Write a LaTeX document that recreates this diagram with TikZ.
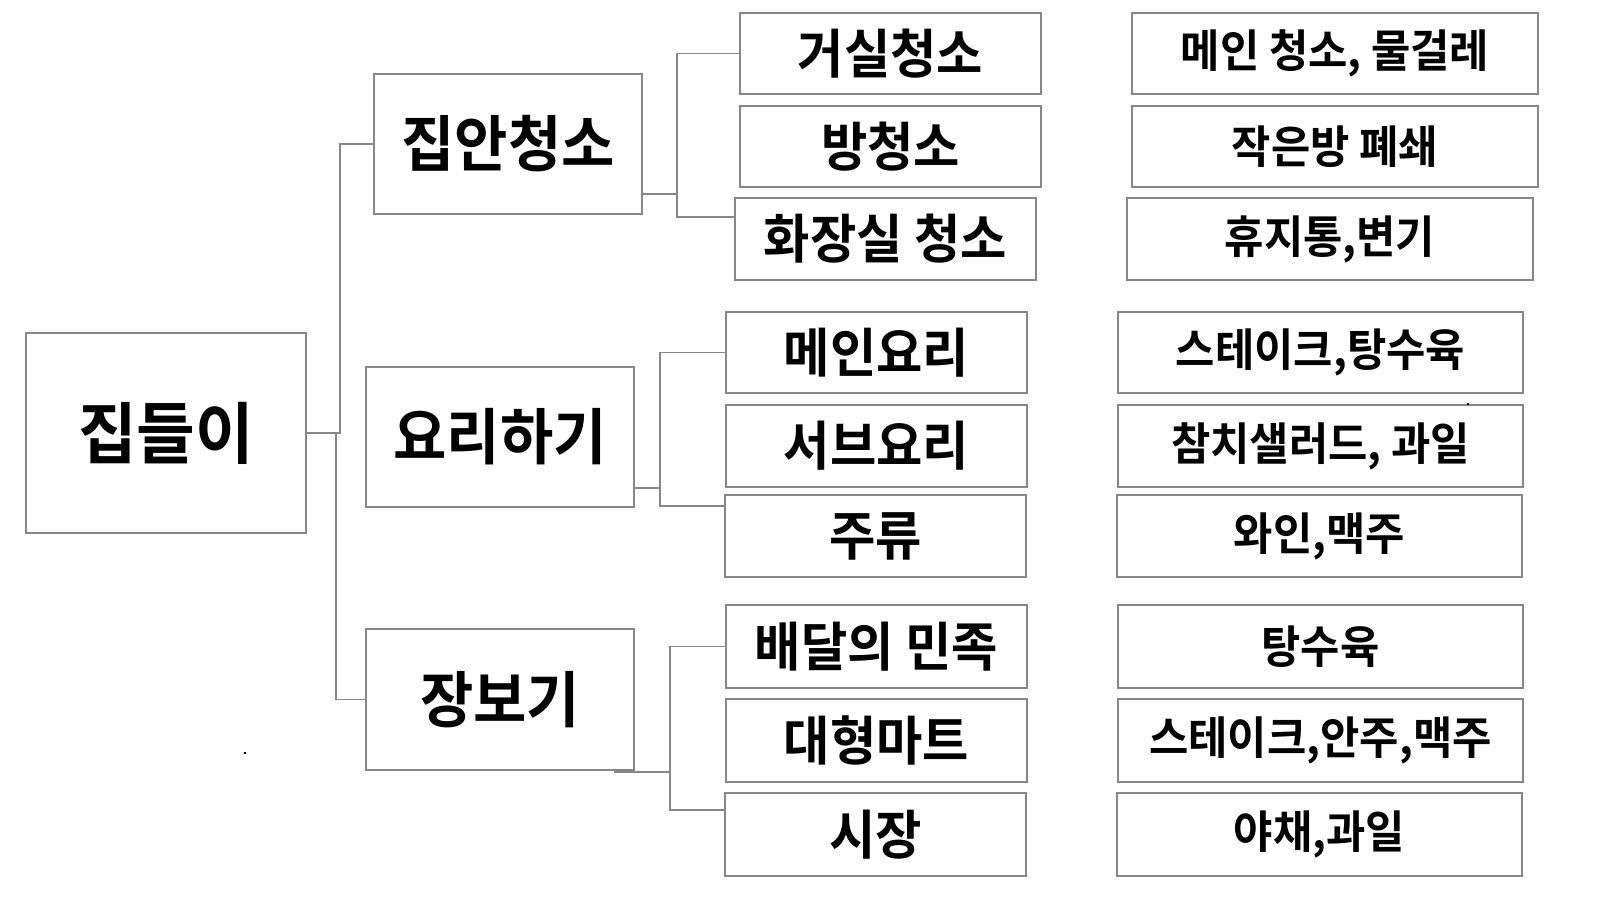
\documentclass[tikz,border=0pt]{standalone}
\usepackage{fontspec}
\newfontfamily\krb{Noto Sans CJK KR}[UprightFont=* Bold, FakeStretch=0.95]
\definecolor{linegray}{RGB}{135,135,135}
\tikzset{
  box/.style={draw=linegray, line width=1.8pt, fill=white, inner sep=0pt, outer sep=0pt, anchor=center, text=black},
  conn/.style={draw=linegray, line width=1.8pt},
  rootbox/.style={box, font=\krb\fontsize{67}{67}\selectfont},
  lonebox/.style={box, font=\krb\fontsize{61}{61}\selectfont},
  ltwobox/.style={box, font=\krb\fontsize{53}{53}\selectfont},
  lthreebox/.style={box, font=\krb\fontsize{45}{45}\selectfont},
}
\newcommand{\bx}[8]{% style, name, x1, y1, x2, y2, text
  \node[#1, minimum width={(#5-#3)*1pt}, minimum height={(#6-#4)*1pt}] (#2) at ({(#3+#5)/2},{(#4+#6)/2}) {#7};}
\begin{document}
\begin{tikzpicture}[x=1pt, y=-1pt]
\useasboundingbox[fill=white] (0,0) rectangle (1600,900);
% root
\bx{rootbox}{root}{26}{333}{306}{533}{집들이}{}
% level 1
\bx{lonebox}{clean}{374}{74}{642}{214}{집안청소}{}
\bx{lonebox}{cook}{366}{367}{634}{507}{요리하기}{}
\bx{lonebox}{shop}{366}{629}{634}{770}{장보기}{}
% level 2
\bx{ltwobox}{living}{740}{13}{1041}{94}{거실청소}{}
\bx{ltwobox}{room}{740}{106}{1041}{187}{방청소}{}
\bx{ltwobox}{toilet}{735}{198}{1036}{280}{화장실 청소}{}
\bx{ltwobox}{main}{726}{312}{1027}{393}{메인요리}{}
\bx{ltwobox}{sub}{726}{405}{1027}{487}{서브요리}{}
\bx{ltwobox}{drink}{725}{495}{1026}{577}{주류}{}
\bx{ltwobox}{baemin}{726}{605}{1027}{688}{배달의 민족}{}
\bx{ltwobox}{mart}{726}{699}{1027}{782}{대형마트}{}
\bx{ltwobox}{market}{725}{793}{1026}{876}{시장}{}
% level 3
\bx{lthreebox}{dA}{1132}{13}{1538}{94}{메인 청소, 물걸레}{}
\bx{lthreebox}{dB}{1132}{106}{1538}{187}{작은방 폐쇄}{}
\bx{lthreebox}{dC}{1127}{198}{1533}{280}{휴지통,변기}{}
\bx{lthreebox}{dD}{1118}{312}{1523}{393}{스테이크,탕수육}{}
\bx{lthreebox}{dE}{1118}{405}{1523}{487}{참치샐러드, 과일}{}
\bx{lthreebox}{dF}{1117}{495}{1522}{577}{와인,맥주}{}
\bx{lthreebox}{dG}{1118}{605}{1523}{688}{탕수육}{}
\bx{lthreebox}{dH}{1118}{699}{1523}{782}{스테이크,안주,맥주}{}
\bx{lthreebox}{dI}{1117}{793}{1522}{876}{야채,과일}{}
% connectors root
\coordinate (rj1) at (340,433);
\coordinate (rj2) at (336,433);
\draw[conn] (root.east) -- (rj1) |- (clean.west);
\draw[conn] (root.east) -- (rj2) |- (shop.west);
% connectors clean
\coordinate (cj) at (677,194);
\draw[conn] (clean.east |- cj) -- (cj) |- (living.west);
\draw[conn] (cj) |- (toilet.west |- 0,217);
% connectors cook
\coordinate (kj) at (660,488);
\draw[conn] (cook.east |- kj) -- (kj) |- (main.west);
\draw[conn] (kj) |- (drink.west |- 0,506);
% connectors shop
\coordinate (sj) at (670,772);
\coordinate (ss) at (614,772);
\draw[conn] (ss) -- (sj) |- (baemin.west);
\draw[conn] (sj) |- (market.west |- 0,810);
% stray dots
\fill[black] (244,752) rectangle (246,754);
\fill[black] (1467,403) rectangle (1469,405);
\end{tikzpicture}
\end{document}
